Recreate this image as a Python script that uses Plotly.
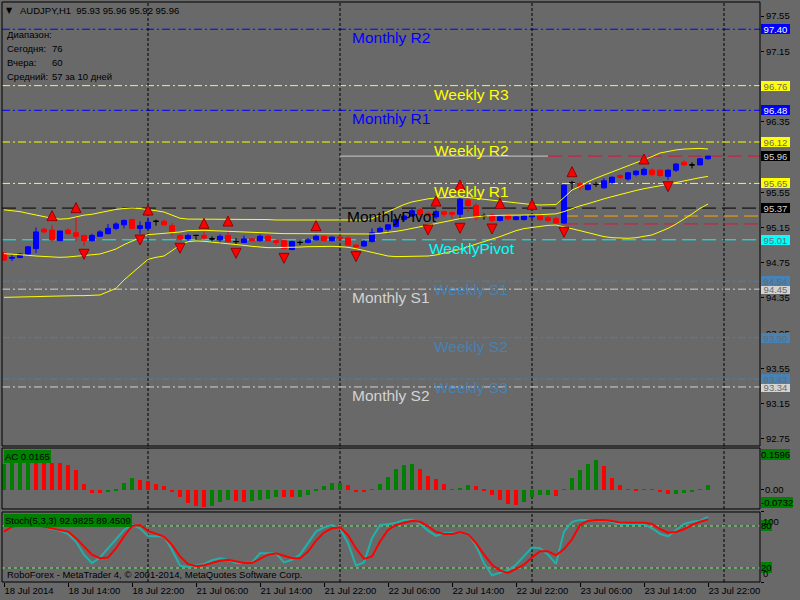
import plotly.graph_objs as go

# bars numbered the way MT4 draws them: 0 = 18 Jul 2014 06:00, one bar per hour, weekend left out
tick_bars = [0, 8, 16, 24, 32, 40, 48, 56, 64, 72, 80, 88]
tick_text = ['18 Jul 2014', '18 Jul 14:00', '18 Jul 22:00', '21 Jul 06:00', '21 Jul 14:00',
             '21 Jul 22:00', '22 Jul 06:00', '22 Jul 14:00', '22 Jul 22:00', '23 Jul 06:00',
             '23 Jul 14:00', '23 Jul 22:00']
day_bars = [18, 42, 66, 90]
# 96.75 and 95.95 sit under the level boxes in the reference, so they are left out
price_ticks = [97.55, 97.15, 96.35, 95.55, 95.15, 94.75, 94.35, 93.95, 93.55, 93.15, 92.75]

# AUDJPY H1 candles
o = [94.86, 94.80, 94.81, 94.85, 94.91, 95.13, 95.12, 95.00, 95.12, 95.09,
     95.06, 95.00, 95.05, 95.08, 95.14, 95.18, 95.24, 95.14, 95.14, 95.22,
     95.22, 95.17, 95.06, 95.02, 95.06, 95.06, 95.02, 95.01, 95.06, 94.99,
     94.98, 95.02, 95.00, 95.05, 95.00, 95.00, 94.90, 94.98, 94.98, 95.01,
     95.05, 95.00, 95.04, 95.03, 94.95, 94.94, 94.99, 95.10, 95.13, 95.16,
     95.24, 95.28, 95.35, 95.31, 95.27, 95.33, 95.32, 95.30, 95.46, 95.40,
     95.28, 95.29, 95.23, 95.29, 95.24, 95.24, 95.27, 95.29, 95.26, 95.25,
     95.20, 95.66, 95.65, 95.58, 95.64, 95.60, 95.66, 95.74, 95.70, 95.75,
     95.75, 95.80, 95.80, 95.73, 95.80, 95.89, 95.86, 95.86, 95.93]
h = [94.87, 94.84, 94.86, 94.94, 95.15, 95.15, 95.18, 95.11, 95.14, 95.27,
     95.06, 95.08, 95.12, 95.19, 95.21, 95.24, 95.25, 95.22, 95.26, 95.24,
     95.24, 95.20, 95.07, 95.08, 95.06, 95.10, 95.05, 95.07, 95.12, 95.03,
     95.06, 95.03, 95.07, 95.07, 95.01, 95.01, 95.00, 95.00, 95.03, 95.07,
     95.05, 95.05, 95.05, 95.05, 94.96, 95.01, 95.14, 95.16, 95.19, 95.25,
     95.30, 95.36, 95.37, 95.33, 95.35, 95.34, 95.33, 95.49, 95.48, 95.43,
     95.31, 95.31, 95.29, 95.30, 95.28, 95.29, 95.31, 95.31, 95.28, 95.27,
     95.64, 95.68, 95.67, 95.64, 95.67, 95.71, 95.73, 95.75, 95.78, 95.80,
     95.83, 95.82, 95.81, 95.81, 95.88, 95.91, 95.89, 95.94, 95.96]
l = [94.77, 94.77, 94.80, 94.83, 94.86, 95.08, 94.99, 95.00, 95.07, 94.99,
     94.94, 94.99, 95.05, 95.07, 95.12, 95.14, 95.13, 95.08, 95.12, 95.17,
     95.17, 95.05, 95.01, 94.99, 95.01, 95.01, 94.99, 94.97, 94.97, 94.95,
     94.97, 94.99, 94.99, 94.99, 94.95, 94.90, 94.89, 94.95, 94.97, 95.00,
     94.99, 94.99, 95.00, 94.94, 94.89, 94.93, 94.98, 95.08, 95.08, 95.15,
     95.22, 95.27, 95.28, 95.27, 95.25, 95.27, 95.25, 95.24, 95.33, 95.23,
     95.24, 95.21, 95.22, 95.23, 95.23, 95.23, 95.25, 95.22, 95.21, 95.19,
     95.19, 95.58, 95.57, 95.57, 95.61, 95.59, 95.64, 95.70, 95.68, 95.73,
     95.74, 95.73, 95.72, 95.69, 95.78, 95.85, 95.82, 95.86, 95.92]
c = [94.78, 94.81, 94.85, 94.93, 95.10, 95.10, 95.01, 95.11, 95.08, 95.05,
     95.00, 95.06, 95.10, 95.14, 95.19, 95.23, 95.14, 95.17, 95.21, 95.22,
     95.18, 95.10, 95.02, 95.06, 95.06, 95.03, 95.02, 95.05, 94.99, 94.99,
     95.02, 95.00, 95.05, 95.00, 94.98, 94.91, 94.99, 94.98, 95.01, 95.05,
     95.00, 95.04, 95.03, 94.95, 94.93, 94.99, 95.09, 95.14, 95.18, 95.24,
     95.28, 95.34, 95.30, 95.29, 95.33, 95.30, 95.30, 95.47, 95.40, 95.26,
     95.28, 95.23, 95.27, 95.25, 95.27, 95.28, 95.29, 95.24, 95.23, 95.20,
     95.63, 95.66, 95.61, 95.63, 95.64, 95.68, 95.72, 95.72, 95.77, 95.79,
     95.81, 95.75, 95.74, 95.80, 95.87, 95.86, 95.86, 95.93, 95.96]

# yellow bands
band_up = [95.35, 95.34, 95.33, 95.31, 95.29, 95.27, 95.255, 95.245, 95.25, 95.27,
           95.29, 95.30, 95.32, 95.34, 95.355, 95.365, 95.37, 95.365, 95.355, 95.34,
           95.325, 95.29, 95.255, 95.245, 95.245, 95.245, 95.245, 95.245, 95.245, 95.245,
           95.245, 95.245, 95.24, 95.24, 95.235, 95.235, 95.235, 95.235, 95.235, 95.235,
           95.235, 95.235, 95.235, 95.235, 95.235, 95.235, 95.25, 95.29, 95.33, 95.37,
           95.41, 95.44, 95.46, 95.475, 95.485, 95.49, 95.495, 95.495, 95.49, 95.48,
           95.465, 95.455, 95.445, 95.435, 95.425, 95.415, 95.41, 95.405, 95.405, 95.41,
           95.49, 95.575, 95.615, 95.67, 95.71, 95.745, 95.78, 95.815, 95.845, 95.88,
           95.92, 95.955, 95.995, 96.015, 96.03, 96.04, 96.045, 96.048, 96.04]
band_mid = [94.853, 94.849, 94.842, 94.834, 94.826, 94.819, 94.815, 94.811, 94.815, 94.823,
            94.830, 94.838, 94.849, 94.876, 94.906, 94.955, 94.997, 95.035, 95.068, 95.076,
            95.080, 95.087, 95.099, 95.114, 95.118, 95.118, 95.114, 95.110, 95.106, 95.102,
            95.095, 95.091, 95.084, 95.084, 95.080, 95.080, 95.080, 95.080, 95.080, 95.080,
            95.080, 95.080, 95.076, 95.076, 95.072, 95.072, 95.076, 95.084, 95.091, 95.106,
            95.121, 95.140, 95.159, 95.178, 95.197, 95.216, 95.235, 95.250, 95.261, 95.273,
            95.280, 95.285, 95.290, 95.290, 95.290, 95.290, 95.290, 95.295, 95.300, 95.305,
            95.330, 95.365, 95.395, 95.420, 95.450, 95.475, 95.500, 95.525, 95.550, 95.570,
            95.590, 95.605, 95.620, 95.640, 95.660, 95.680, 95.700, 95.715, 95.730]
band_low = [94.357, 94.357, 94.361, 94.361, 94.365, 94.368, 94.372, 94.372, 94.372, 94.376,
            94.376, 94.380, 94.384, 94.421, 94.459, 94.554, 94.630, 94.705, 94.788, 94.811,
            94.826, 94.887, 94.951, 94.989, 94.997, 94.993, 94.985, 94.978, 94.970, 94.959,
            94.947, 94.936, 94.928, 94.921, 94.921, 94.921, 94.925, 94.928, 94.932, 94.936,
            94.936, 94.936, 94.932, 94.925, 94.909, 94.887, 94.864, 94.841, 94.826, 94.819,
            94.819, 94.819, 94.822, 94.826, 94.838, 94.857, 94.876, 94.902, 94.932, 94.963,
            94.993, 95.019, 95.046, 95.084, 95.114, 95.137, 95.152, 95.167, 95.174, 95.178,
            95.159, 95.140, 95.114, 95.091, 95.065, 95.046, 95.034, 95.027, 95.027, 95.034,
            95.046, 95.065, 95.102, 95.140, 95.189, 95.242, 95.303, 95.367, 95.416]

# fractals (arrow tip prices)
frac_up_bar = [6, 9, 18, 25, 28, 39, 54, 57, 62, 66, 71, 80]
frac_up_price = [95.341, 95.432, 95.405, 95.254, 95.28, 95.227, 95.507, 95.689, 95.48, 95.47, 95.84, 95.984]
frac_dn_bar = [10, 17, 22, 29, 35, 44, 53, 57, 61, 70, 83]
frac_dn_price = [94.789, 94.951, 94.857, 94.80, 94.743, 94.762, 95.065, 95.084, 95.076, 95.038, 95.556]

# pivot levels
monthly_names = ['Monthly R2', 'Monthly R1', 'MonthlyPivot', 'Monthly S1', 'Monthly S2']
monthly_levels = [97.40, 96.48, 95.37, 94.45, 93.34]
weekly_names = ['Weekly R3', 'Weekly R2', 'Weekly R1', 'WeeklyPivot', 'Weekly S1', 'Weekly S2', 'Weekly S3']
weekly_levels = [96.76, 96.12, 95.65, 95.01, 94.54, 93.90, 93.43]
bid = 95.96
bid_from, bid_to = 42, 68
daily_levels = [95.28, 95.19]
daily_from = 70

# Accelerator oscillator
ac = [0.100, 0.101, 0.102, 0.103, 0.1025, 0.102, 0.1015, 0.101, 0.0945, 0.0753,
      0.023, -0.0115, -0.012, -0.0077, -0.0038, 0.0243, 0.0447, 0.0383, 0.0332, 0.0217,
      0.014, -0.0077, -0.0268, -0.0498, -0.060, -0.0664, -0.0613, -0.046, -0.0383, -0.0434,
      -0.0447, -0.044, -0.0383, -0.0345, -0.0268, -0.0275, -0.0281, -0.0268, -0.0217, -0.0026,
      0.014, 0.0255, 0.026, 0.0179, -0.0077, -0.0102, 0.003, 0.0217, 0.0485, 0.079,
      0.0945, 0.098, 0.079, 0.052, 0.041, 0.0217, 0.0026, 0.0064, 0.0179, 0.014,
      -0.0038, -0.0204, -0.0383, -0.0536, -0.0587, -0.046, -0.0281, -0.0215, -0.020, -0.023,
      0.0026, 0.0447, 0.0753, 0.098, 0.1137, 0.0907, 0.0447, 0.0179, 0.0026, -0.0026,
      0.0026, 0.0015, -0.0077, -0.016, -0.015, -0.0115, -0.0077, 0.0026, 0.0165]

# Stochastic(5,3,3)
stoch_main = [88.5, 87.6, 86.0, 84.7, 81.4, 79.0, 75.7, 73.4, 68.7, 57.8,
              39.0, 27.0, 35.0, 48.0, 61.0, 74.3, 81.4, 76.7, 65.8, 65.8,
              65.0, 46.0, 23.3, 21.4, 23.3, 25.7, 31.0, 34.0, 31.8, 27.0,
              27.0, 28.0, 41.0, 41.0, 41.0, 28.0, 31.8, 39.0, 55.4, 72.0,
              78.0, 81.4, 76.7, 55.4, 23.3, 28.0, 62.5, 81.4, 82.4, 84.7,
              88.5, 89.4, 82.8, 73.4, 65.8, 69.6, 70.5, 70.5, 69.6, 51.7,
              27.0, 9.6, 13.0, 16.7, 24.7, 36.5, 49.3, 48.3, 39.0, 26.0,
              72.0, 86.0, 88.5, 88.5, 88.5, 88.0, 85.7, 82.8, 82.8, 82.8,
              82.8, 76.7, 68.7, 65.0, 73.4, 82.8, 86.0, 87.6, 92.98]
stoch_signal = [72.0, 79.0, 81.4, 82.0, 81.0, 79.0, 77.0, 75.0, 72.0, 62.5,
                50.7, 39.0, 34.0, 35.0, 48.0, 65.0, 80.0, 81.4, 73.0, 68.7,
                65.0, 53.0, 36.5, 25.7, 22.4, 23.8, 27.0, 30.4, 31.8, 29.5,
                27.0, 27.0, 33.0, 39.0, 41.0, 38.0, 34.0, 34.0, 43.6, 59.0,
                70.5, 76.7, 78.0, 67.0, 48.0, 33.0, 36.5, 57.8, 74.3, 81.4,
                84.7, 87.6, 86.0, 80.0, 71.5, 68.7, 68.7, 71.0, 68.7, 55.4,
                39.0, 24.7, 16.2, 13.0, 18.6, 24.7, 35.0, 44.0, 44.0, 38.0,
                47.0, 61.0, 81.4, 87.6, 88.5, 88.5, 87.0, 85.0, 84.7, 84.7,
                84.7, 82.8, 75.7, 70.5, 71.5, 75.3, 81.4, 86.0, 89.45]
stoch_levels = [80, 20]

bars = list(range(len(c)))
BG = 'rgb(105,105,105)'
FONT = 'Liberation Sans'
W = 758.0  # plot width in px, used to place the corner texts


def px(xp):
    return (xp - 2) / W


body = [i for i in bars if o[i] != c[i]]
doji = [i for i in bars if o[i] == c[i]]

candles = go.Candlestick(
    x=body, open=[o[i] for i in body], high=[h[i] for i in body],
    low=[l[i] for i in body], close=[c[i] for i in body],
    increasing=dict(line=dict(color='blue', width=1), fillcolor='blue'),
    decreasing=dict(line=dict(color='red', width=1), fillcolor='red'),
    hoverinfo='skip'
)
crosses = go.Candlestick(
    x=doji, open=[o[i] for i in doji], high=[h[i] for i in doji],
    low=[l[i] for i in doji], close=[c[i] for i in doji],
    increasing=dict(line=dict(color='black', width=1), fillcolor='black'),
    decreasing=dict(line=dict(color='black', width=1), fillcolor='black'),
    hoverinfo='skip'
)
bands = [go.Scatter(x=bars, y=b, mode='lines', line=dict(color='yellow', width=1), hoverinfo='skip')
         for b in (band_up, band_mid, band_low)]
frac_up = go.Scatter(x=frac_up_bar, y=frac_up_price, mode='markers',
                     marker=dict(symbol='arrow-up', size=10, color='red',
                                 line=dict(color='rgb(150,0,0)', width=1)))
frac_dn = go.Scatter(x=frac_dn_bar, y=frac_dn_price, mode='markers',
                     marker=dict(symbol='arrow-down', size=10, color='red',
                                 line=dict(color='rgb(150,0,0)', width=1)))

ac_colors = ['green'] + ['green' if ac[i] > ac[i - 1] else 'red' for i in bars[1:]]
ac_bars = go.Bar(x=bars, y=ac, width=0.5, marker=dict(color=ac_colors, line=dict(width=0)),
                 yaxis='y2', hoverinfo='skip')

st_main = go.Scatter(x=bars, y=stoch_main, mode='lines', line=dict(color='lightseagreen', width=2),
                     yaxis='y3', hoverinfo='skip')
st_sig = go.Scatter(x=bars, y=stoch_signal, mode='lines', line=dict(color='red', width=2),
                    yaxis='y3', hoverinfo='skip')

data = bands + [candles, crosses, frac_up, frac_dn, ac_bars, st_main, st_sig]

DASHDOT = '8px,3px,2px,3px'
LONGDASH = '14px,6px'

shapes = []
annotations = []


def hline(y, color, dash, x0=None, x1=94.5):
    if x0 is None:
        return dict(type='line', xref='x domain', yref='y', x0=0, x1=1, y0=y, y1=y,
                    line=dict(color=color, width=1, dash=dash), layer='below')
    return dict(type='line', xref='x', yref='y', x0=x0, x1=x1, y0=y, y1=y,
                line=dict(color=color, width=1, dash=dash), layer='below')


def price_box(y, bg, fg, yref='y'):
    return dict(xref='paper', x=1, xanchor='left', xshift=1, yref=yref, y=y, yanchor='middle',
                text='%.2f' % y, showarrow=False, bgcolor=bg, borderpad=0, borderwidth=0,
                width=29, height=10, align='center', font=dict(family=FONT, size=9.5, color=fg))


monthly_colors = ['blue', 'blue', 'black', 'lightgray', 'lightgray']
weekly_colors = ['yellow', 'yellow', 'yellow', 'cyan', 'steelblue', 'steelblue', 'steelblue']
box_text = {'blue': 'white', 'black': 'lightgray'}

for names, levels, colors, xpos in ((monthly_names, monthly_levels, monthly_colors, 43.25),
                                    (weekly_names, weekly_levels, weekly_colors, 53.5)):
    for name, lvl, col in zip(names, levels, colors):
        dash = LONGDASH if 'Pivot' in name else DASHDOT
        shapes.append(hline(lvl, col, dash))
        annotations.append(dict(xref='x', x=xpos - (0.65 if 'Pivot' in name else 0), xanchor='left',
                                yref='y', y=lvl, yanchor='top', yshift=2, text=name, showarrow=False,
                                font=dict(family=FONT, size=15.5, color=col)))
        annotations.append(price_box(lvl, col, box_text.get(col, 'dimgray')))

shapes.append(hline(bid, 'rgb(200,200,200)', 'solid', bid_from, bid_to))
shapes.append(hline(bid, 'rgb(220,20,60)', LONGDASH, bid_to))
for lvl, col in zip(daily_levels, ['orange', 'rgb(220,20,60)']):
    shapes.append(hline(lvl, col, LONGDASH, daily_from))
annotations.append(price_box(bid, 'black', 'lightgray'))

# day separators and panel frames
for ax in ('y', 'y2', 'y3'):
    for d in day_bars:
        shapes.append(dict(type='line', xref='x', yref=ax + ' domain', x0=d, x1=d, y0=0, y1=1,
                           line=dict(color='black', width=1, dash='3px,2px'), layer='below'))
    shapes.append(dict(type='rect', xref='x domain', yref=ax + ' domain', x0=0, x1=1, y0=0, y1=1,
                       line=dict(color='black', width=1)))

for lv in stoch_levels:
    shapes.append(dict(type='line', xref='x domain', yref='y3', x0=0, x1=1, y0=lv, y1=lv,
                       line=dict(color='green', width=1), layer='below'))
    shapes.append(dict(type='line', xref='x domain', yref='y3', x0=0, x1=1, y0=lv, y1=lv,
                       line=dict(color='rgb(200,200,200)', width=1, dash='3px,3px'), layer='below'))

# corner texts
small = dict(family=FONT, size=9.5, color='black')
annotations += [
    dict(xref='x domain', x=px(4), xanchor='left', yref='y domain', y=1, yanchor='middle', yshift=-8,
         text='\u25bc', showarrow=False, font=dict(family='DejaVu Sans', size=8, color='black')),
    dict(xref='x domain', x=px(18), xanchor='left', yref='y domain', y=1, yanchor='middle', yshift=-8,
         text='AUDJPY,H1  95.93 95.96 95.92 95.96', showarrow=False, font=small),
]
info_rows = [('Диапазон:', ''), ('Сегодня:', '76'), ('Вчера:', '60'), ('Средний:', '57 за 10 дней')]
for k, (lab, val) in enumerate(info_rows):
    yshift = -(32 + 14 * k)
    annotations.append(dict(xref='x domain', x=px(5), xanchor='left', yref='y domain', y=1,
                            yanchor='middle', yshift=yshift, text=lab, showarrow=False, font=small))
    if val:
        annotations.append(dict(xref='x domain', x=px(50), xanchor='left', yref='y domain', y=1,
                                yanchor='middle', yshift=yshift, text=val, showarrow=False, font=small))

annotations += [
    dict(xref='x domain', x=px(4), xanchor='left', yref='y2 domain', y=1, yanchor='top', yshift=-2,
         text='AC 0.0165', showarrow=False, bgcolor='green', borderpad=1, borderwidth=0, font=small),
    dict(xref='x domain', x=px(4), xanchor='left', yref='y3 domain', y=1, yanchor='top', yshift=-2,
         text='Stoch(5,3,3) 92.9825 89.4509', showarrow=False, bgcolor='green', borderpad=1,
         borderwidth=0, font=small),
    dict(xref='x domain', x=px(5), xanchor='left', yref='y3 domain', y=0, yanchor='bottom', yshift=0,
         text='RoboForex - MetaTrader 4, \u00a9 2001-2014, MetaQuotes Software Corp.', showarrow=False,
         font=small),
    # AC scale
    dict(xref='paper', x=1, xanchor='left', xshift=1, yref='y2 domain', y=1, yanchor='top', yshift=-1,
         text='0.1596', showarrow=False, bgcolor='green', borderpad=0, borderwidth=0, font=small),
    dict(xref='paper', x=1, xanchor='left', xshift=3, yref='y2', y=0, yanchor='middle',
         text='0.00', showarrow=False, font=small),
    dict(xref='paper', x=1, xanchor='left', xshift=1, yref='y2 domain', y=0, yanchor='bottom', yshift=1,
         text='-0.0732', showarrow=False, bgcolor='green', borderpad=0, borderwidth=0, font=small),
    # stochastic scale
    dict(xref='paper', x=1, xanchor='left', xshift=1, yref='y3', y=80, yanchor='middle',
         text='80', showarrow=False, bgcolor='green', borderpad=0, borderwidth=0, font=small),
    dict(xref='paper', x=1, xanchor='left', xshift=1, yref='y3', y=100, yanchor='top', yshift=-2,
         text='100', showarrow=False, font=small),
    dict(xref='paper', x=1, xanchor='left', xshift=1, yref='y3', y=20, yanchor='middle',
         text='20', showarrow=False, bgcolor='green', borderpad=0, borderwidth=0, font=small),
    dict(xref='paper', x=1, xanchor='left', xshift=1, yref='y3', y=0, yanchor='bottom', yshift=1,
         text='0', showarrow=False, font=small),
]

layout = go.Layout(
    width=800, height=600,
    margin=go.layout.Margin(l=2, r=40, t=2, b=18, pad=0),
    paper_bgcolor=BG, plot_bgcolor=BG,
    showlegend=False,
    font=dict(family=FONT, size=9.5, color='black'),
    boxgap=0.375, boxgroupgap=0,
    bargap=0,
    xaxis=dict(
        range=[-0.25, 94.5], anchor='y3',
        rangeslider=dict(visible=False),
        showgrid=False, zeroline=False, showline=False,
        tickmode='array', tickvals=tick_bars, ticktext=tick_text,
        ticks='outside', ticklen=4, tickcolor='black',
        ticklabelposition='outside right',
        tickfont=dict(family=FONT, size=9.5, color='black')
    ),
    yaxis=dict(
        domain=[0.2345, 1], range=[92.67, 97.709], side='right', anchor='x',
        showgrid=False, zeroline=False, showline=False,
        tickmode='array', tickvals=price_ticks, ticktext=['%.2f' % p for p in price_ticks],
        ticks='outside', ticklen=3, tickcolor='black',
        tickfont=dict(family=FONT, size=9.5, color='black')
    ),
    yaxis2=dict(
        domain=[0.1259, 0.2310], range=[-0.0732, 0.1596], side='right', anchor='x',
        showgrid=False, zeroline=False, showline=False, showticklabels=False,
        tickmode='array', tickvals=[0], ticks='outside', ticklen=3, tickcolor='black'
    ),
    yaxis3=dict(
        domain=[0, 0.1207], range=[0, 100], side='right', anchor='x',
        showgrid=False, zeroline=False, showline=False, showticklabels=False,
        tickmode='array', tickvals=[0, 20, 80, 100], ticks='outside', ticklen=3, tickcolor='black'
    ),
    shapes=shapes,
    annotations=annotations
)

fig = go.Figure(data=data, layout=layout)
# the page's default 8px body margin would push the 800x600 figure out of the window
fig.write_html('out.html', config={'displayModeBar': False},
               post_script="document.body.style.margin='0';document.body.style.overflow='hidden';")
